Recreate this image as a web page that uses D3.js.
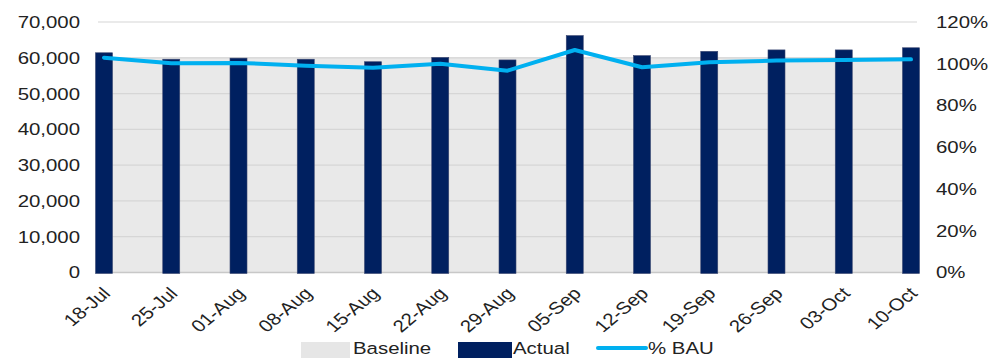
<!DOCTYPE html>
<html>
<head>
<meta charset="utf-8">
<script src="https://cdn.jsdelivr.net/npm/d3@7"></script>
<style>
  html, body { margin: 0; padding: 0; background: #fff; }
  svg { display: block; font-family: "Liberation Sans", Arial, sans-serif; }
</style>
</head>
<body>
<svg id="chart" width="989" height="358"></svg>
<script>
// Weekly volumes against the business-as-usual baseline
const weeks = ["18-Jul", "25-Jul", "01-Aug", "08-Aug", "15-Aug", "22-Aug", "29-Aug",
               "05-Sep", "12-Sep", "19-Sep", "26-Sep", "03-Oct", "10-Oct"];
const baseline = [60200, 60200, 60200, 60200, 60200, 60200, 60200,
                  60200, 60200, 60200, 60200, 60200, 60200];
const actual = [61400, 59600, 59900, 59600, 58900, 60100, 59400,
                66200, 60600, 61800, 62200, 62200, 62800];
const pctBAU = [1.029, 1.002, 1.004, 0.991, 0.981, 1.000, 0.967,
                1.066, 0.983, 1.007, 1.015, 1.018, 1.021];
const leftTicks = [0, 10000, 20000, 30000, 40000, 50000, 60000, 70000];
const rightTicks = [0, 0.2, 0.4, 0.6, 0.8, 1.0, 1.2];

const W = 989, H = 358;
const margin = { top: 22, right: 72, bottom: 85.5, left: 98 };
const iw = W - margin.left - margin.right;
const ih = H - margin.top - margin.bottom;
const stretch = "scale(1.2,1)";
const textColor = "#222";

const svg = d3.select("#chart");
const g = svg.append("g").attr("transform", `translate(${margin.left},${margin.top})`);

const x = d3.scalePoint().domain(weeks).range([6, iw - 6]);
const y = d3.scaleLinear().domain([0, 70000]).range([ih, 0]);
const y2 = d3.scaleLinear().domain([0, 1.2]).range([ih, 0]);
const barW = 17;

// Baseline area spans the full plot width
const area = d3.area()
  .x((d, i) => i === 0 ? 0 : (i === weeks.length - 1 ? iw : x(weeks[i])))
  .y0(y(0))
  .y1(d => y(d));
g.append("path").datum(baseline)
  .attr("d", area)
  .attr("fill", "#e9e9e9");

// Horizontal gridlines
g.append("g").selectAll("line").data(leftTicks.slice(1))
  .join("line")
  .attr("x1", 0).attr("x2", iw)
  .attr("y1", d => y(d)).attr("y2", d => y(d))
  .attr("stroke", "#d6d6d6").attr("stroke-width", 1.2);

// Category axis line
g.append("line")
  .attr("x1", 0).attr("x2", iw)
  .attr("y1", y(0)).attr("y2", y(0))
  .attr("stroke", "#c8c8c8").attr("stroke-width", 1.5);

// Actual bars
g.append("g").selectAll("rect").data(actual)
  .join("rect")
  .attr("x", (d, i) => x(weeks[i]) - barW / 2)
  .attr("y", d => y(d))
  .attr("width", barW)
  .attr("height", d => y(0) - y(d) + 1)
  .attr("fill", "#002060")
  .attr("stroke", "#3a4670").attr("stroke-width", 0.6);

// % BAU line
const line = d3.line()
  .x((d, i) => x(weeks[i]))
  .y(d => y2(d));
g.append("path").datum(pctBAU)
  .attr("d", line)
  .attr("fill", "none")
  .attr("stroke", "#00b0f0")
  .attr("stroke-width", 4)
  .attr("stroke-linejoin", "round")
  .attr("stroke-linecap", "round");

// Left axis
const leftAxis = g.append("g")
  .call(d3.axisLeft(y).tickValues(leftTicks).tickSize(0).tickFormat(d3.format(",")));
leftAxis.select(".domain").remove();
leftAxis.selectAll("text")
  .attr("x", 0)
  .attr("transform", `translate(-18,0) ${stretch}`)
  .attr("font-size", 17)
  .attr("font-family", "Liberation Sans, Arial, sans-serif")
  .attr("fill", textColor);

// Right axis
const rightAxis = g.append("g")
  .attr("transform", `translate(${iw},0)`)
  .call(d3.axisRight(y2).tickValues(rightTicks).tickSize(0).tickFormat(d3.format(".0%")));
rightAxis.select(".domain").remove();
rightAxis.selectAll("text")
  .attr("x", 0)
  .attr("transform", `translate(19,0) ${stretch}`)
  .attr("font-size", 17)
  .attr("font-family", "Liberation Sans, Arial, sans-serif")
  .attr("fill", textColor);

// Rotated week labels
const bottomAxis = g.append("g")
  .attr("transform", `translate(0,${ih})`)
  .call(d3.axisBottom(x).tickSize(0));
bottomAxis.select(".domain").remove();
bottomAxis.selectAll("text")
  .attr("x", 0).attr("y", 0).attr("dy", 0)
  .attr("text-anchor", "end")
  .attr("transform", `translate(7,22) ${stretch} rotate(-45)`)
  .attr("font-size", 17)
  .attr("font-family", "Liberation Sans, Arial, sans-serif")
  .attr("fill", textColor);

// Legend
const legend = svg.append("g").attr("transform", "translate(301,354)");
const legendItems = [
  { label: "Baseline", type: "area", color: "#e6e6e6", sx: 0, sw: 49, tx: 52 },
  { label: "Actual", type: "bar", color: "#002060", sx: 157, sw: 54, tx: 212 },
  { label: "% BAU", type: "line", color: "#00b0f0", sx: 297, sw: 48, tx: 347 }
];
legendItems.forEach(it => {
  if (it.type === "line") {
    legend.append("line")
      .attr("x1", it.sx).attr("x2", it.sx + it.sw)
      .attr("y1", -6).attr("y2", -6)
      .attr("stroke", it.color).attr("stroke-width", 4)
      .attr("stroke-linecap", "round");
  } else {
    legend.append("rect")
      .attr("x", it.sx).attr("y", -12)
      .attr("width", it.sw).attr("height", 16)
      .attr("fill", it.color);
  }
  legend.append("text")
    .attr("transform", `translate(${it.tx},0) ${stretch}`)
    .attr("font-size", 17)
    .attr("fill", textColor)
    .text(it.label);
});
</script>
</body>
</html>
